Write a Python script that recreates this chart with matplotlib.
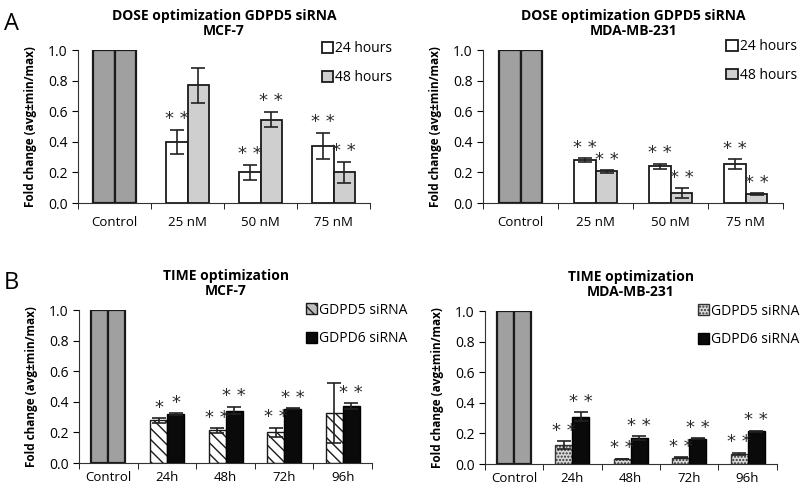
import matplotlib
matplotlib.use("Agg")
import matplotlib.pyplot as plt
import numpy as np
from matplotlib.patches import Patch

plt.rcParams['font.family'] = ['Open Sans', 'DejaVu Sans']
plt.rcParams['hatch.linewidth'] = 1.0

# ---- data ----
dose_cats = ["Control", "25 nM", "50 nM", "75 nM"]
time_cats = ["Control", "24h", "48h", "72h", "96h"]

mcf_dose_24 = [1.0, 0.40, 0.20, 0.375]
mcf_dose_24_err = [0.0, 0.08, 0.05, 0.085]
mcf_dose_48 = [1.0, 0.77, 0.545, 0.20]
mcf_dose_48_err = [0.0, 0.115, 0.05, 0.07]
mcf_dose_24_sig = ["", "* *", "* *", "* *"]
mcf_dose_48_sig = ["", "", "* *", "* *"]

mda_dose_24 = [1.0, 0.28, 0.24, 0.255]
mda_dose_24_err = [0.0, 0.012, 0.015, 0.03]
mda_dose_48 = [1.0, 0.207, 0.065, 0.06]
mda_dose_48_err = [0.0, 0.008, 0.03, 0.005]
mda_dose_24_sig = ["", "* *", "* *", "* *"]
mda_dose_48_sig = ["", "* *", "* *", "* *"]

mcf_time_g5 = [1.0, 0.278, 0.213, 0.202, 0.326]
mcf_time_g5_err = [0.0, 0.015, 0.015, 0.03, 0.195]
mcf_time_g6 = [1.0, 0.32, 0.343, 0.354, 0.37]
mcf_time_g6_err = [0.0, 0.005, 0.025, 0.003, 0.02]
mcf_time_g5_sig = ["", "*", "* *", "* *", ""]
mcf_time_g6_sig = ["", "*", "* *", "* *", "* *"]

mda_time_g5 = [1.0, 0.124, 0.033, 0.043, 0.065]
mda_time_g5_err = [0.0, 0.025, 0.003, 0.003, 0.008]
mda_time_g6 = [1.0, 0.309, 0.17, 0.167, 0.215]
mda_time_g6_err = [0.0, 0.03, 0.012, 0.003, 0.003]
mda_time_g5_sig = ["", "* *", "* *", "* *", "* *"]
mda_time_g6_sig = ["", "* *", "* *", "* *", "* *"]

fig = plt.figure(figsize=(8, 4.88), dpi=100)

CTRL = '#a0a0a0'
BW = 0.29

def panel(rect, cats, v1, e1, v2, e2, s1, s2, style1, style2, labels, title, leg_xy,
          legstyle1=None, xpad=9):
    ax = fig.add_axes(rect)
    n = len(cats)
    x = np.arange(n)
    for i in range(n):
        for (vals, errs, sig, st, off) in ((v1, e1, s1, style1, -BW / 2), (v2, e2, s2, style2, BW / 2)):
            if i == 0:
                kw = dict(facecolor=CTRL, edgecolor='#1a1a1a', linewidth=1.6)
            else:
                kw = st
            ax.bar(x[i] + off, vals[i], BW, zorder=2, **kw)
            if errs[i] > 0:
                ax.errorbar(x[i] + off, vals[i], yerr=errs[i], fmt='none', ecolor='#222222',
                            elinewidth=1.2, capsize=5, capthick=1.2, zorder=3, clip_on=False)
            if sig[i]:
                ax.text(x[i] + off, vals[i] + errs[i] + 0.01, sig[i], ha='center', va='bottom',
                        fontsize=13, color='#2a2a2a', family='DejaVu Sans')
    ax.set_xlim(-0.5, n - 0.5)
    ax.set_ylim(0, 1.0)
    ax.set_yticks(np.arange(0, 1.01, 0.2))
    ax.set_yticklabels([f"{t:.1f}" for t in np.arange(0, 1.01, 0.2)], fontsize=10)
    ax.set_xticks(x)
    ax.set_xticklabels(cats, fontsize=9.5)
    ax.set_xticks(np.arange(n + 1) - 0.5, minor=True)
    ax.tick_params(axis='x', which='major', length=0, pad=xpad)
    ax.tick_params(axis='x', which='minor', length=4, direction='out')
    ax.tick_params(axis='y', length=4, direction='out')
    for s in ('top', 'right'):
        ax.spines[s].set_visible(False)
    ax.spines['left'].set_color('#333333')
    ax.spines['bottom'].set_color('#333333')
    ax.set_ylabel("Fold change (avg±min/max)", fontsize=8.5, fontweight='bold', labelpad=8)
    ax.set_title(title, fontsize=10, fontweight='bold', pad=11, linespacing=1.1)
    handles = [Patch(**(legstyle1 or style1)), Patch(**style2)]
    fig.legend(handles, labels, loc='upper left', bbox_to_anchor=leg_xy, frameon=False,
               fontsize=10, handlelength=0.8, handleheight=0.8, handletextpad=0.2,
               labelspacing=1.0, borderaxespad=0, borderpad=0)
    return ax

white = dict(facecolor='white', edgecolor='#1a1a1a', linewidth=1.3)
lgray = dict(facecolor='#cfcfcf', edgecolor='#1a1a1a', linewidth=1.3)
hatched = dict(facecolor='white', edgecolor='#1a1a1a', linewidth=1.0, hatch='\\\\\\')
hatched_leg = dict(facecolor='#bdbdbd', edgecolor='#1a1a1a', linewidth=1.0, hatch='\\\\\\')
dotted = dict(facecolor='#d8d8d8', edgecolor='#333333', linewidth=1.0, hatch='.....')
black = dict(facecolor='#0a0a0a', edgecolor='#000000', linewidth=1.0)

panel([0.0975, 0.584, 0.365, 0.3135], dose_cats, mcf_dose_24, mcf_dose_24_err, mcf_dose_48, mcf_dose_48_err,
      mcf_dose_24_sig, mcf_dose_48_sig, white, lgray, ["24 hours", "48 hours"],
      "DOSE optimization GDPD5 siRNA\nMCF-7", (0.402, 0.915))
panel([0.604, 0.584, 0.375, 0.3135], dose_cats, mda_dose_24, mda_dose_24_err, mda_dose_48, mda_dose_48_err,
      mda_dose_24_sig, mda_dose_48_sig, white, lgray, ["24 hours", "48 hours"],
      "DOSE optimization GDPD5 siRNA\nMDA-MB-231", (0.908, 0.92))
panel([0.099, 0.0512, 0.366, 0.3135], time_cats, mcf_time_g5, mcf_time_g5_err, mcf_time_g6, mcf_time_g6_err,
      mcf_time_g5_sig, mcf_time_g6_sig, hatched, black, ["GDPD5 siRNA", "GDPD6 siRNA"],
      "TIME optimization\nMCF-7", (0.382, 0.380), legstyle1=hatched_leg, xpad=6)
panel([0.606, 0.049, 0.365, 0.3135], time_cats, mda_time_g5, mda_time_g5_err, mda_time_g6, mda_time_g6_err,
      mda_time_g5_sig, mda_time_g6_sig, dotted, black, ["GDPD5 siRNA", "GDPD6 siRNA"],
      "TIME optimization\nMDA-MB-231", (0.872, 0.378), xpad=6)

fig.text(0.005, 0.975, "A", fontsize=17, va='top', ha='left')
fig.text(0.005, 0.445, "B", fontsize=17, va='top', ha='left')

fig.savefig("out.png", dpi=100)
